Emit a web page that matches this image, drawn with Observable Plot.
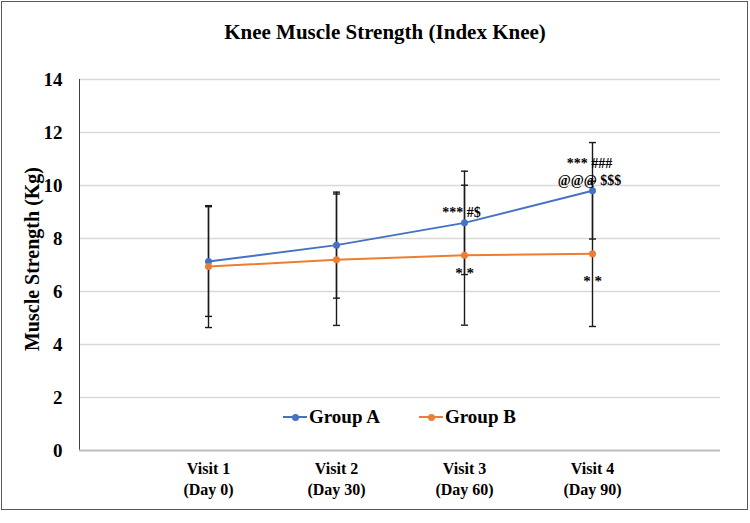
<!DOCTYPE html>
<html>
<head>
<meta charset="utf-8">
<script src="https://cdn.jsdelivr.net/npm/d3@7"></script>
<script src="https://cdn.jsdelivr.net/npm/@observablehq/plot@0.6"></script>
<style>
  html, body { margin: 0; padding: 0; background: #fff; overflow: hidden; }
  #wrap { position: relative; width: 750px; height: 523px; font-family: "Liberation Serif", "Times New Roman", serif; font-weight: bold; color: #000; }
  #border { position: absolute; left: 1px; top: 1px; width: 747px; height: 509px; box-sizing: border-box; border: 1.5px solid #595959; }
  #title { position: absolute; left: 20px; width: 730px; top: 19px; text-align: center; font-size: 21px; line-height: 26px; }
  #chart { position: absolute; left: 0; top: 0; }
  .leg { position: absolute; top: 405px; height: 24px; display: flex; align-items: center; font-size: 19px; }
  .sw { position: relative; width: 24px; height: 24px; margin-right: 2px; }
  .sw .ln { position: absolute; left: 0; right: 0; top: 11px; height: 2px; }
  .sw .dt { position: absolute; left: 8.5px; top: 8.5px; width: 7px; height: 7px; border-radius: 50%; }
</style>
</head>
<body>
<div id="wrap">
  <div id="chart"></div>
  <div id="border"></div>
  <div id="title"></div>
  <div id="legend"></div>
</div>
<script>
const titleText = "Knee Muscle Strength (Index Knee)";
const yLabel = "Muscle Strength (Kg)";
const visits = ["Visit 1", "Visit 2", "Visit 3", "Visit 4"];
const days = ["(Day 0)", "(Day 30)", "(Day 60)", "(Day 90)"];
const groups = ["Group A", "Group B"];
const colors = ["#4472C4", "#ED7D31"];
const groupA = [7.13, 7.75, 8.59, 9.80];
const groupB = [6.94, 7.20, 7.37, 7.42];
const errA = [2.07, 2.00, 1.95, 1.82];
const errB = [2.30, 2.48, 2.64, 2.74];
const yTicks = [0, 2, 4, 6, 8, 10, 12, 14];
const annVisit = ["Visit 3", "Visit 4", "Visit 3", "Visit 4"];
const annGroup = ["Group A", "Group A", "Group B", "Group B"];
const annText = ["*** #$", "*** ###\n@@@ $$$", "* *", "* *"];

const labels = visits.map((v, i) => v + "\n" + days[i]);
const rows = [];
visits.forEach((v, i) => {
  rows.push({label: labels[i], group: groups[0], value: groupA[i], err: errA[i]});
  rows.push({label: labels[i], group: groups[1], value: groupB[i], err: errB[i]});
});
const ann = annText.map((t, i) => {
  const vi = visits.indexOf(annVisit[i]);
  const val = annGroup[i] === groups[0] ? groupA[vi] : groupB[vi];
  return {label: labels[vi], group: annGroup[i], value: val, text: t, visit: annVisit[i]};
});
const annA = ann.filter(d => d.group === groups[0]);
const annB3 = ann.filter(d => d.group === groups[1] && d.visit === "Visit 3");
const annB4 = ann.filter(d => d.group === groups[1] && d.visit === "Visit 4");

const cap = {draw(ctx) { ctx.moveTo(-3.5, 0); ctx.lineTo(3.5, 0); }};

const chart = Plot.plot({
  width: 750, height: 523,
  marginLeft: 79, marginRight: 30, marginTop: 79, marginBottom: 73,
  style: {fontFamily: "'Liberation Serif', 'Times New Roman', serif", fontWeight: "bold", color: "#000", background: "transparent"},
  x: {type: "point", domain: labels, padding: 1, label: null},
  y: {domain: [0, 14], label: null},
  color: {domain: groups, range: colors},
  marks: [
    Plot.gridY(yTicks, {stroke: "#d9d9d9", strokeOpacity: 1, strokeWidth: 1.3}),
    Plot.frame({anchor: "left", stroke: "#404040", strokeWidth: 1}),
    Plot.ruleY([0], {stroke: "#bfbfbf", strokeWidth: 2}),
    Plot.axisY({ticks: yTicks, tickSize: 0, tickPadding: 17, fontSize: 19, label: null}),
    Plot.axisX({tickSize: 0, tickPadding: 9, fontSize: 16, lineHeight: 1.3, label: null}),
    Plot.text([yLabel], {frameAnchor: "left", textAnchor: "middle", rotate: -90, dx: -47, dy: -6, fontSize: 20, fill: "#000"}),
    Plot.line(rows, {x: "label", y: "value", stroke: "group", z: "group", strokeWidth: 2}),
    Plot.ruleX(rows, {x: "label", y1: d => d.value - d.err, y2: d => d.value + d.err, stroke: "#1a1a1a", strokeWidth: 1.4}),
    Plot.dot(rows, {x: "label", y: d => d.value - d.err, symbol: cap, stroke: "#1a1a1a", fill: "none", strokeWidth: 1.4}),
    Plot.dot(rows, {x: "label", y: d => d.value + d.err, symbol: cap, stroke: "#1a1a1a", fill: "none", strokeWidth: 1.4}),
    Plot.dot(rows, {x: "label", y: "value", fill: "group", r: 3.5}),
    Plot.text(annA, {x: "label", y: "value", text: "text", lineAnchor: "bottom", dy: -6, dx: -3, fontSize: 14, lineHeight: 1.2, fill: "#000"}),
    Plot.text(annB3, {x: "label", y: "value", text: "text", lineAnchor: "middle", dy: 18, fontSize: 15, fill: "#000"}),
    Plot.text(annB4, {x: "label", y: "value", text: "text", lineAnchor: "middle", dy: 27, fontSize: 15, fill: "#000"})
  ]
});
document.getElementById("chart").appendChild(chart);
document.getElementById("title").textContent = titleText;

const legendLefts = [283, 419];
const legend = document.getElementById("legend");
groups.forEach((g, i) => {
  const item = document.createElement("div");
  item.className = "leg";
  item.style.left = legendLefts[i] + "px";
  item.innerHTML = `<div class="sw"><div class="ln" style="background:${colors[i]}"></div><div class="dt" style="background:${colors[i]}"></div></div><span>${g}</span>`;
  legend.appendChild(item);
});
</script>
</body>
</html>
